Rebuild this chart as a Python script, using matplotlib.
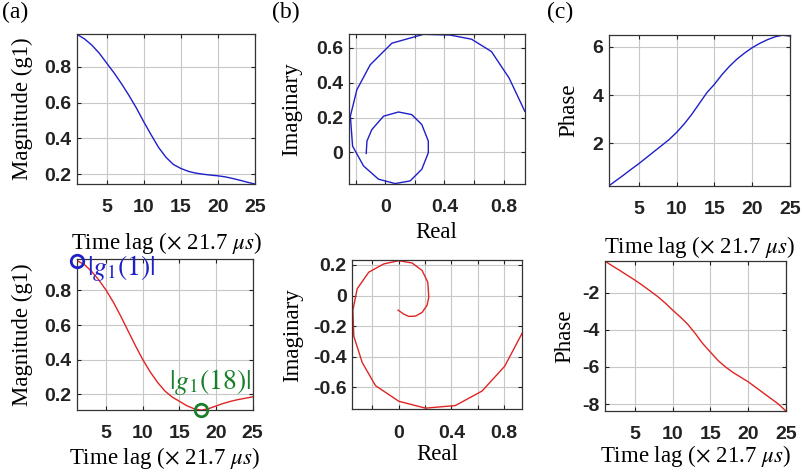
import matplotlib
matplotlib.use("Agg")
import matplotlib.pyplot as plt
import numpy as np

lag = np.arange(1, 26)

# top row (blue)
mag_top = [0.98, 0.955, 0.92, 0.875, 0.82, 0.765, 0.705, 0.64, 0.57, 0.493, 0.42, 0.35, 0.295,
           0.255, 0.233, 0.217, 0.207, 0.201, 0.196, 0.192, 0.186, 0.177, 0.167, 0.156, 0.146]
phase_top = [0.22, 0.45, 0.68, 0.92, 1.15, 1.4, 1.65, 1.9, 2.15, 2.45, 2.8, 3.2, 3.65, 4.1, 4.45,
             4.85, 5.2, 5.5, 5.75, 5.97, 6.15, 6.3, 6.42, 6.49, 6.45]
re_top = [0.942, 0.836, 0.717, 0.583, 0.437, 0.258, 0.045, -0.101, -0.191, -0.235, -0.22, -0.146,
          -0.045, 0.067, 0.168, 0.247, 0.291, 0.291, 0.247, 0.179, 0.09, -0.011, -0.09, -0.123, -0.128]
im_top = [0.236, 0.427, 0.579, 0.65, 0.674, 0.678, 0.627, 0.503, 0.36, 0.208, 0.036, -0.078,
          -0.154, -0.179, -0.164, -0.097, -0.002, 0.065, 0.16, 0.217, 0.232, 0.208, 0.131, 0.065, -0.006]

# bottom row (red)
mag_bot = [0.972, 0.95, 0.91, 0.86, 0.80, 0.73, 0.65, 0.565, 0.48, 0.40, 0.33, 0.27, 0.22,
           0.185, 0.16, 0.135, 0.117, 0.109, 0.118, 0.133, 0.148, 0.16, 0.17, 0.178, 0.186]
phase_bot = [-0.29, -0.55, -0.8, -1.06, -1.32, -1.6, -1.9, -2.2, -2.55, -2.94, -3.3, -3.7, -4.2,
             -4.75, -5.2, -5.65, -6.0, -6.3, -6.55, -6.8, -7.1, -7.4, -7.7, -8.0, -8.38]
re_bot = [0.937, 0.805, 0.633, 0.43, 0.203, 0.0, -0.177, -0.278, -0.342, -0.349, -0.316, -0.228,
          -0.114, 0.0, 0.101, 0.177, 0.22, 0.228, 0.215, 0.177, 0.127, 0.076, 0.038, 0.013, -0.005]
im_bot = [-0.246, -0.461, -0.623, -0.718, -0.735, -0.69, -0.588, -0.437, -0.265, -0.095, 0.045,
          0.153, 0.207, 0.228, 0.213, 0.164, 0.088, -0.009, -0.063, -0.11, -0.134, -0.136, -0.121,
          -0.106, -0.095]

blue = '#1f1fc8'
red = '#e02424'
green = '#1a7f2a'

plt.rcParams['mathtext.fontset'] = 'stix'
plt.rcParams['font.family'] = 'Liberation Sans'
plt.rcParams['xtick.labelsize'] = 14
plt.rcParams['ytick.labelsize'] = 14
serif = 'Liberation Serif'

fig = plt.figure(figsize=(8.02, 4.72), dpi=100)

def style(ax, xlabel, ylabel, xticks, xlabels, yticks, ylabels, xpad=1.5, ypad=8):
    ax.set_xticks(xticks, xlabels)
    ax.set_yticks(yticks, ylabels)
    for lbl in ax.get_xticklabels() + ax.get_yticklabels():
        lbl.set_fontweight('bold')
    ax.grid(True, color='#c8c8c8', linewidth=0.8)
    ax.set_axisbelow(True)
    ax.tick_params(direction='in', length=3, top=True, right=True, pad=4, colors='#222222')
    ax.tick_params(axis='x', pad=11)
    for s in ax.spines.values():
        s.set_color('#333333')
        s.set_linewidth(0.9)
    ax.set_xlabel(xlabel, family=serif, fontsize=16.5, labelpad=xpad)
    ax.set_ylabel(ylabel, family=serif, fontsize=16.5, labelpad=ypad)

lagx = [5, 10, 15, 20, 25]
lagl = ['5', '10', '15', '20', '25']
tlabel = r'Time lag ($\times$ 21.7 $\mu s$)'
retick = [-0.2, 0, 0.2, 0.4, 0.6, 0.8]
relab = ['', '0', '', '0.4', '', '0.8']

# (a) top
ax = fig.add_axes([0.096, 0.610, 0.222, 0.318])
ax.plot(lag, mag_top, color=blue, linewidth=1)
ax.set_xlim(1, 25)
ax.set_ylim(0.146, 0.982)
style(ax, tlabel, 'Magnitude (g1)', lagx, lagl, [0.2, 0.4, 0.6, 0.8], ['0.2', '0.4', '0.6', '0.8'],
      xpad=10)

# (b) top
ax = fig.add_axes([0.435, 0.610, 0.219, 0.318])
ax.plot(re_top, im_top, color=blue, linewidth=1)
ax.set_xlim(-0.245, 0.94)
ax.set_ylim(-0.182, 0.68)
style(ax, 'Real', 'Imaginary', retick, relab, [0, 0.2, 0.4, 0.6], ['0', '0.2', '0.4', '0.6'],
      xpad=4, ypad=10)

# (c) top
ax = fig.add_axes([0.759, 0.606, 0.226, 0.320])
ax.plot(lag, phase_top, color=blue, linewidth=1)
ax.set_xlim(1, 25)
ax.set_ylim(0.22, 6.5)
style(ax, tlabel, 'Phase', lagx, lagl, [2, 4, 6], ['2', '4', '6'], xpad=11, ypad=9)

# (a) bottom
ax = fig.add_axes([0.096, 0.131, 0.219, 0.320])
ax.plot(lag, mag_bot, color=red, linewidth=1)
ax.set_xlim(1, 25)
ax.set_ylim(0.109, 0.981)
style(ax, tlabel, 'Magnitude (g1)', lagx, lagl, [0.2, 0.4, 0.6, 0.8], ['0.2', '0.4', '0.6', '0.8'])
ax.plot(lag[0], mag_bot[0], 'o', mfc='none', mec=blue, mew=2, ms=9, clip_on=False, zorder=5)
ax.plot(lag[17], mag_bot[17], 'o', mfc='none', mec=green, mew=2, ms=9, clip_on=False, zorder=5)
ax.text(2.4, mag_bot[0] - 0.045, r'$|g_1(1)|$', color=blue, fontsize=20, va='center', ha='left')
ax.text(24.8, 0.185, r'$|g_1(18)|$', color=green, fontsize=20, va='bottom', ha='right')

# (b) bottom
ax = fig.add_axes([0.439, 0.133, 0.212, 0.316])
ax.plot(re_bot, im_bot, color=red, linewidth=1)
ax.set_xlim(-0.355, 0.937)
ax.set_ylim(-0.742, 0.232)
style(ax, 'Real', 'Imaginary', retick, relab, [-0.6, -0.4, -0.2, 0, 0.2],
      ['-0.6', '-0.4', '-0.2', '0', '0.2'], ypad=7)

# (c) bottom
ax = fig.add_axes([0.754, 0.129, 0.226, 0.318])
ax.plot(lag, phase_bot, color=red, linewidth=1)
ax.set_xlim(1, 25)
ax.set_ylim(-8.38, -0.29)
style(ax, tlabel, 'Phase', lagx, lagl, [-8, -6, -4, -2], ['-8', '-6', '-4', '-2'], xpad=0, ypad=5)

for x, s in [(0.002, '(a)'), (0.339, '(b)'), (0.682, '(c)')]:
    fig.text(x, 0.995, s, family=serif, fontsize=17, va='top', ha='left')

fig.savefig('out.png', dpi=100)
